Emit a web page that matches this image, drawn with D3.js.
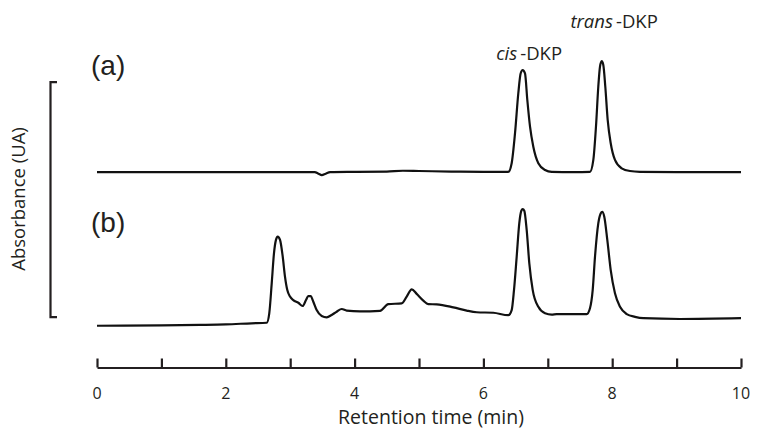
<!DOCTYPE html>
<html>
<head>
<meta charset="utf-8">
<script src="https://cdn.jsdelivr.net/npm/d3@7"></script>
<style>
  body { margin: 0; background: #fff; }
  svg { display: block; }
  text { fill: #231f20; }
</style>
</head>
<body>
<svg id="chart" width="757" height="432"></svg>
<script>
// chromatogram traces, [time (min), absorbance (arbitrary units)]
var traceA = [[0,57.0],[1.5,57.0],[3.0,57.0],[3.38,57.0],[3.44,56.4],[3.49,55.9],[3.55,56.4],[3.62,57.0],
  [4.0,57.1],[4.5,57.2],[4.75,57.5],[5.0,57.4],[5.5,57.2],[6.0,57.1],[6.387,57.1],[6.439,60.3],[6.491,71.4],
  [6.542,86.2],[6.579,93.6],[6.610,94.8],[6.646,93.6],[6.682,83.7],[6.724,73.8],[6.775,66.4],[6.853,60.3],
  [6.957,57.8],[7.061,57.1],[7.4,57.0],[7.655,57.1],[7.707,61.5],[7.748,73.8],[7.784,88.6],[7.81,96.0],
  [7.837,98.1],[7.862,96.7],[7.893,88.6],[7.930,76.3],[7.977,67.7],[8.043,61.5],[8.147,58.4],[8.276,57.4],
  [8.432,57.1],[9.0,57.0],[10,57.0]];

var traceB = [[0,0.1],[1.0,0.2],[1.6,0.4],[2.0,0.6],[2.4,1.0],[2.635,1.2],[2.675,4.7],[2.713,15.8],[2.748,26.9],
  [2.779,31.9],[2.806,33.1],[2.842,31.9],[2.884,25.7],[2.919,18.3],[2.955,13.3],[2.997,10.9],[3.048,9.6],
  [3.126,8.6],[3.194,7.4],[3.245,9.6],[3.281,11.1],[3.318,11.1],[3.359,9.0],[3.411,5.9],[3.489,3.7],
  [3.567,3.2],[3.644,4.1],[3.722,5.3],[3.800,6.3],[3.877,5.7],[4.084,5.4],[4.394,5.6],[4.523,8.1],
  [4.731,8.4],[4.809,10.9],[4.887,13.6],[4.964,11.9],[5.067,9.4],[5.144,8.1],[5.275,8.0],[5.533,6.9],
  [5.741,5.7],[5.896,5.1],[6.154,4.9],[6.387,4.0],[6.439,5.9],[6.475,13.3],[6.517,25.7],[6.557,38.0],
  [6.589,42.7],[6.610,43.3],[6.635,42.7],[6.672,35.6],[6.713,23.2],[6.766,13.3],[6.853,7.1],[6.957,4.7],
  [7.061,4.2],[7.138,4.4],[7.604,4.4],[7.655,6.6],[7.697,13.3],[7.733,25.7],[7.784,38.0],[7.821,41.7],
  [7.846,42.3],[7.877,40.5],[7.924,31.9],[7.977,20.7],[8.043,12.1],[8.121,7.1],[8.225,4.4],[8.354,3.4],
  [8.483,2.9],[9.053,2.6],[10,2.9]];

var xTicks = [0,1,2,3,4,5,6,7,8,9,10];
var xTickLabels = [0,2,4,6,8,10];
var bracketRange = [3.5, 90.5];   // absorbance span of the scale bar
var panelLabels = [{text: "(a)", v: 93}, {text: "(b)", v: 35}];
var peakLabels = [{italic: "cis", rest: "-DKP", t: 6.71, v: 98.5}, {italic: "trans", rest: "-DKP", t: 8.03, v: 110.4}];
var xTitle = "Retention time (min)";
var yTitle = "Absorbance (UA)";

var svg = d3.select("#chart");
var font = "'Open Sans', sans-serif";

var x = d3.scaleLinear().domain([0, 10]).range([97, 741]);
var y = d3.scaleLinear().domain([0, 100]).range([326, 56]);

var line = d3.line()
    .x(function(d) { return x(d[0]); })
    .y(function(d) { return y(d[1]); })
    .curve(d3.curveMonotoneX);

[traceA, traceB].forEach(function(tr) {
  svg.append("path")
     .attr("d", line(tr))
     .attr("fill", "none")
     .attr("stroke", "#111")
     .attr("stroke-width", 2.2)
     .attr("stroke-linejoin", "round");
});

// x axis, ticks pointing up
var xAxis = svg.append("g")
    .attr("transform", "translate(0,367.5)")
    .call(d3.axisBottom(x).tickValues(xTicks).tickSize(-9).tickSizeOuter(0).tickFormat(""));
xAxis.selectAll("path, line").attr("stroke", "#231f20").attr("stroke-width", 2.2);

svg.selectAll(".xlab")
   .data(xTickLabels)
   .enter().append("text")
   .attr("class", "xlab")
   .attr("x", function(d) { return x(d); })
   .attr("y", 399)
   .attr("text-anchor", "middle")
   .style("font-family", font)
   .style("font-size", "16px")
   .text(function(d) { return d; });

svg.append("text")
   .attr("x", 431)
   .attr("y", 424)
   .attr("text-anchor", "middle")
   .style("font-family", font)
   .style("font-size", "19.5px")
   .text(xTitle);

// scale bracket on the left
var bracket = d3.scaleLinear().domain(bracketRange).range([y(bracketRange[0]), y(bracketRange[1])]);
var yAxis = svg.append("g")
    .attr("transform", "translate(50,0)")
    .call(d3.axisRight(bracket).tickValues([]).tickSizeOuter(7));
yAxis.selectAll("path").attr("stroke", "#231f20").attr("stroke-width", 2.2).attr("fill", "none");

svg.append("text")
   .attr("transform", "translate(25,199) rotate(-90)")
   .attr("text-anchor", "middle")
   .style("font-family", font)
   .style("font-size", "18.5px")
   .text(yTitle);

svg.selectAll(".panel")
   .data(panelLabels)
   .enter().append("text")
   .attr("class", "panel")
   .attr("x", 91)
   .attr("y", function(d) { return y(d.v); })
   .style("font-family", "'Liberation Sans', Arial, sans-serif")
   .style("font-size", "28px")
   .text(function(d) { return d.text; });

var pk = svg.selectAll(".peak")
   .data(peakLabels)
   .enter().append("text")
   .attr("class", "peak")
   .attr("x", function(d) { return x(d.t); })
   .attr("y", function(d) { return y(d.v); })
   .attr("text-anchor", "middle")
   .style("font-family", font)
   .style("font-size", "18.5px");
pk.append("tspan").style("font-style", "italic").text(function(d) { return d.italic; });
pk.append("tspan").attr("dx", 3).text(function(d) { return d.rest; });
</script>
</body>
</html>
